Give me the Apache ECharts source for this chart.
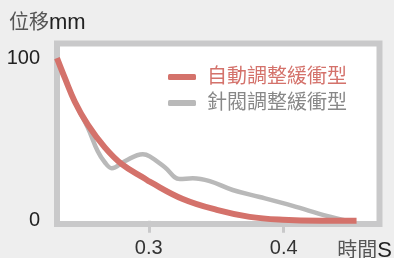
<!DOCTYPE html>
<html>
<head>
<meta charset="utf-8">
<script src="https://cdn.jsdelivr.net/npm/echarts@6/dist/echarts.min.js"></script>
<style>
    html, body { margin: 0; padding: 0; background: #eeeeee; }
    #chart { width: 394px; height: 258px; }
</style>
</head>
<body>
<div id="chart"></div>
<script>
    // 自動調整緩衝型 [時間, 位移]
    var autoData = [
        [0.232, 100], [0.2378, 87.8], [0.2452, 73.2], [0.2548, 59.1], [0.2674, 45.1],
        [0.2800, 34.8], [0.2970, 26.0], [0.3007, 24.0], [0.3252, 13.4], [0.3504, 6.7],
        [0.3748, 2.4], [0.3993, 0.6], [0.4267, 0], [0.454, 0]
    ];
    // 針閥調整緩衝型
    var needleData = [
        [0.232, 100], [0.2452, 73.2], [0.2548, 57.3], [0.2622, 42.7], [0.2674, 36.0],
        [0.2726, 32.3], [0.2822, 36.6], [0.2956, 40.9], [0.3007, 39.6], [0.3119, 32.9],
        [0.3230, 25.6], [0.3326, 26.2], [0.3452, 24.4], [0.3622, 18.9], [0.3822, 14.6],
        [0.4067, 9.1], [0.4319, 3.0], [0.4467, 0]
    ];
    var seriesNames = ['自動調整緩衝型', '針閥調整緩衝型'];
    var xTicks = [0.3, 0.4];
    var yTicks = [0, 100];

    var font = 'Liberation Sans, Arial, Noto Sans CJK TC, sans-serif';
    var chart = echarts.init(document.getElementById('chart'));
    var option = {
        backgroundColor: '#eeeeee',
        textStyle: { fontFamily: font },
        title: [
            {
                text: '{c|位移}{l|mm}',
                left: 9, top: 12, padding: 0,
                textStyle: {
                    fontWeight: 'normal',
                    rich: {
                        c: { fontSize: 20, color: '#555', fontFamily: font, fontWeight: 'normal' },
                        l: { fontSize: 22, color: '#222', fontFamily: font, fontWeight: 'normal' }
                    }
                }
            },
            {
                text: '{c|時間}{l|S}',
                right: 2, top: 240, padding: 0,
                textStyle: {
                    fontWeight: 'normal',
                    rich: {
                        c: { fontSize: 20, color: '#555', fontFamily: font, fontWeight: 'normal' },
                        l: { fontSize: 22, color: '#222', fontFamily: font, fontWeight: 'normal' }
                    }
                }
            }
        ],
        legend: {
            orient: 'vertical',
            left: 168, top: 67, padding: 0,
            itemWidth: 28, itemHeight: 6, itemGap: 6,
            icon: 'roundRect',
            textStyle: { fontSize: 20, fontFamily: font, padding: [0, 0, 0, 6] },
            data: [
                { name: seriesNames[0], textStyle: { color: '#d4726b' } },
                { name: seriesNames[1], textStyle: { color: '#888888' } }
            ]
        },
        grid: {
            show: true,
            left: 57, right: 14.5, top: 43.5, bottom: 32.5,
            backgroundColor: '#ffffff',
            borderColor: '#c9c9ca',
            borderWidth: 6
        },
        xAxis: {
            type: 'value',
            min: 0.232, max: 0.471,
            axisLine: { show: false },
            splitLine: { show: false },
            axisTick: {
                show: true, length: 12, customValues: xTicks,
                lineStyle: { color: '#c9c9ca', width: 3 }
            },
            axisLabel: {
                customValues: xTicks, margin: 14,
                fontSize: 20, color: '#333', fontFamily: font,
                formatter: function (v) { return v.toFixed(1); }
            }
        },
        yAxis: {
            type: 'value',
            min: -2, max: 109,
            axisLine: { show: false },
            splitLine: { show: false },
            axisTick: { show: false },
            axisLabel: {
                customValues: yTicks, margin: 17,
                fontSize: 20, color: '#222', fontFamily: font,
                padding: [5, 0, 0, 0]
            }
        },
        series: [
            {
                name: seriesNames[1],
                type: 'line',
                data: needleData,
                smooth: 0.4,
                symbol: 'none',
                z: 2,
                itemStyle: { color: '#b9b9b9' },
                lineStyle: { color: '#b9b9b9', width: 4.5 }
            },
            {
                name: seriesNames[0],
                type: 'line',
                data: autoData,
                smooth: 0.4,
                symbol: 'none',
                z: 3,
                itemStyle: { color: '#d4726b' },
                lineStyle: { color: '#d4726b', width: 6 }
            }
        ]
    };
    chart.setOption(option);
</script>
</body>
</html>
